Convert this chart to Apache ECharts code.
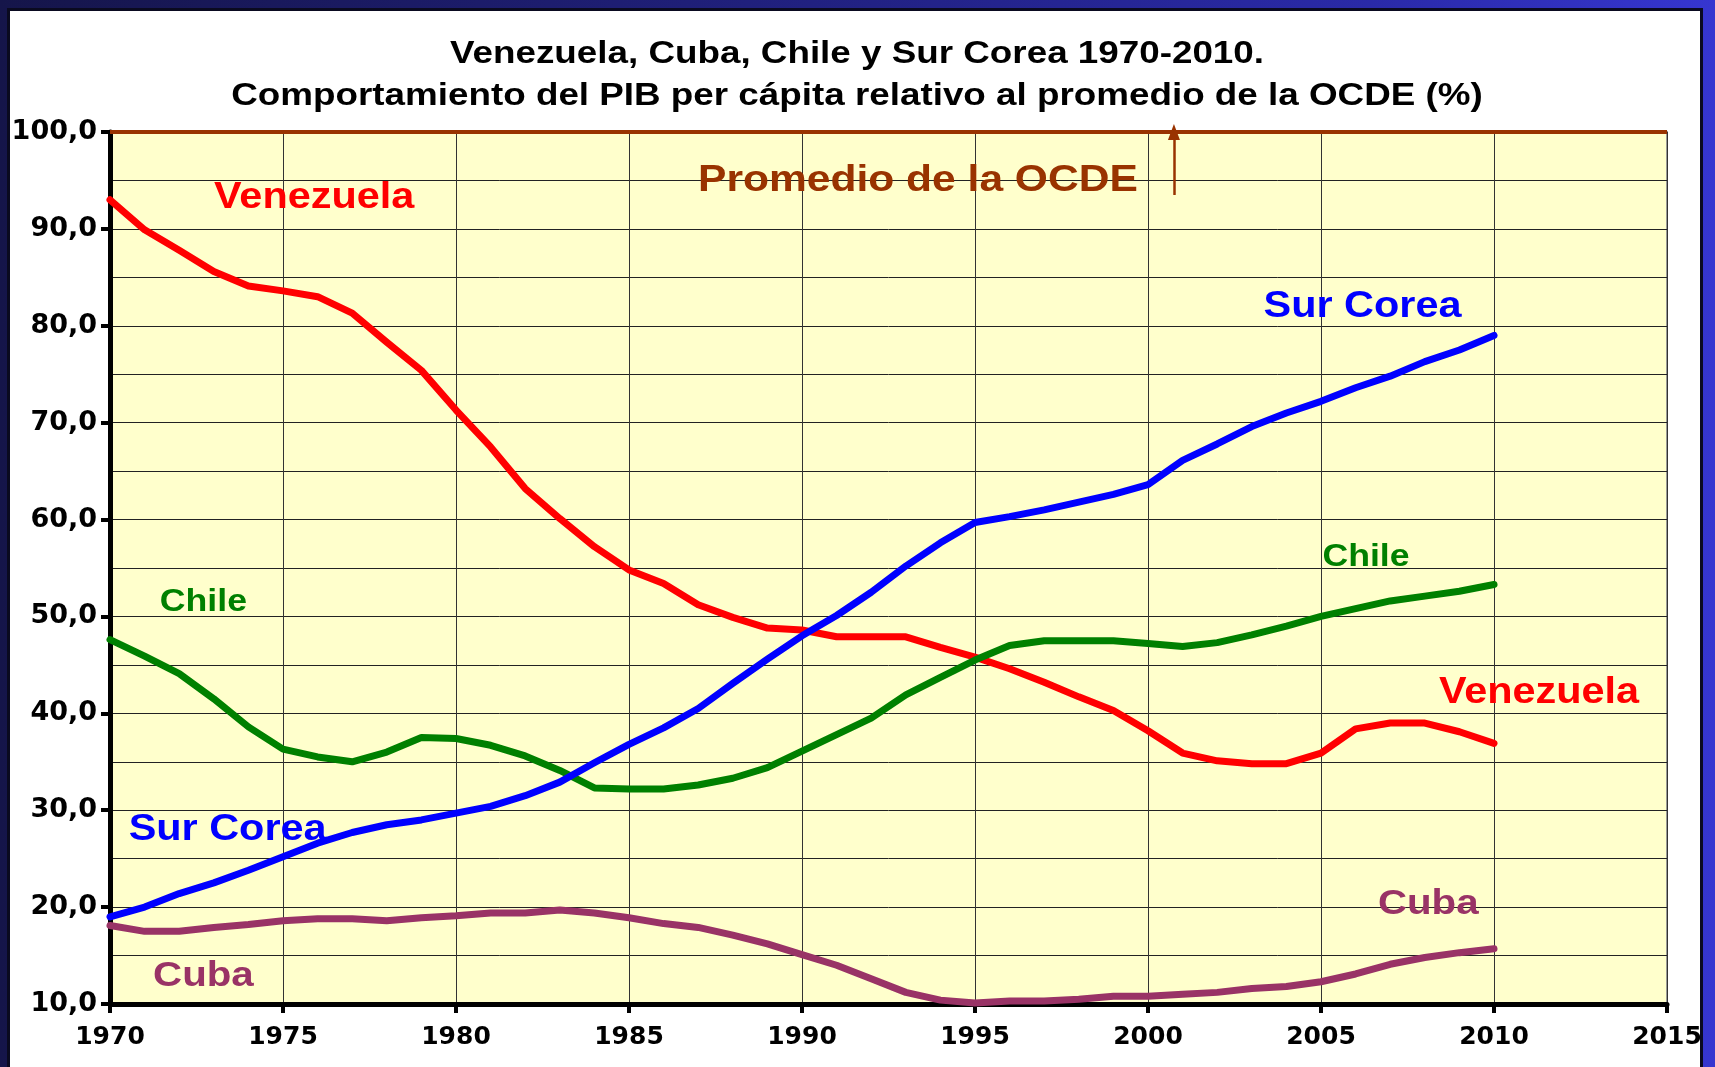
<!DOCTYPE html>
<html>
<head>
<meta charset="utf-8">
<script src="https://cdn.jsdelivr.net/npm/echarts@6/dist/echarts.min.js"></script>
<style>
  html, body { margin: 0; padding: 0; }
  body {
    width: 1715px; height: 1067px; overflow: hidden; position: relative;
    background: linear-gradient(90deg, #15154a 0%, #1f1f78 40%, #2a2aa8 80%, #3636d0 100%);
  }
  #panel {
    position: absolute; left: 7px; top: 8px; width: 1690px; height: 1070px;
    background: #fff; border: 3px solid #0a0a20;
  }
  #chart { position: absolute; left: 0; top: 0; width: 1715px; height: 1067px; }
</style>
</head>
<body>
<div id="panel"></div>
<div id="chart"></div>
<script>
const years = [1970, 1971, 1972, 1973, 1974, 1975, 1976, 1977, 1978, 1979,
  1980, 1981, 1982, 1983, 1984, 1985, 1986, 1987, 1988, 1989,
  1990, 1991, 1992, 1993, 1994, 1995, 1996, 1997, 1998, 1999,
  2000, 2001, 2002, 2003, 2004, 2005, 2006, 2007, 2008, 2009, 2010];

const venezuela = [93.0, 89.9, 87.8, 85.6, 84.1, 83.6, 83.0, 81.3, 78.3, 75.4,
  71.3, 67.5, 63.2, 60.1, 57.2, 54.8, 53.4, 51.2, 49.9, 48.8,
  48.6, 47.9, 47.9, 47.9, 46.8, 45.8, 44.6, 43.2, 41.7, 40.3,
  38.2, 35.9, 35.1, 34.8, 34.8, 35.9, 38.4, 39.0, 39.0, 38.1, 36.9];

const surCorea = [19.0, 20.0, 21.4, 22.5, 23.8, 25.2, 26.6, 27.7, 28.5, 29.0,
  29.7, 30.4, 31.5, 32.9, 34.9, 36.8, 38.5, 40.5, 43.1, 45.6,
  48.0, 50.1, 52.5, 55.2, 57.6, 59.7, 60.3, 61.0, 61.8, 62.6,
  63.6, 66.1, 67.8, 69.6, 71.0, 72.2, 73.6, 74.8, 76.3, 77.5, 79.0];

const chile = [47.6, 45.9, 44.1, 41.5, 38.6, 36.3, 35.5, 35.0, 36.0, 37.5,
  37.4, 36.7, 35.6, 34.1, 32.3, 32.2, 32.2, 32.6, 33.3, 34.4,
  36.1, 37.8, 39.5, 41.9, 43.7, 45.5, 47.0, 47.5, 47.5, 47.5,
  47.2, 46.9, 47.3, 48.1, 49.0, 50.0, 50.8, 51.6, 52.1, 52.6, 53.3];

const cuba = [18.1, 17.5, 17.5, 17.9, 18.2, 18.6, 18.8, 18.8, 18.6, 18.9,
  19.1, 19.4, 19.4, 19.7, 19.4, 18.9, 18.3, 17.9, 17.1, 16.2,
  15.1, 14.0, 12.6, 11.2, 10.4, 10.1, 10.3, 10.3, 10.5, 10.8,
  10.8, 11.0, 11.2, 11.6, 11.8, 12.3, 13.1, 14.1, 14.8, 15.3, 15.7];

const ocdeLevel = 100;
const ocdeArrow = [[2000.75, 93.5], [2000.75, 100]];

const titleLines = [
  'Venezuela, Cuba, Chile y Sur Corea 1970-2010.',
  'Comportamiento del PIB per cápita relativo al promedio de la OCDE (%)'
];

// in-chart labels: [text, year, value, color, size]
const notes = [
  ['Venezuela', 1975.9, 93.2, '#ff0000', 36],
  ['Promedio de la OCDE', 1993.35, 95.0, '#993300', 37],
  ['Sur Corea', 2006.2, 81.9, '#0000ff', 36],
  ['Chile', 2006.3, 56.1, '#008000', 31],
  ['Venezuela', 2011.3, 42.1, '#ff0000', 36],
  ['Cuba', 2008.1, 20.3, '#993366', 35],
  ['Chile', 1972.7, 51.4, '#008000', 31],
  ['Sur Corea', 1973.4, 28.0, '#0000ff', 36],
  ['Cuba', 1972.7, 12.9, '#993366', 35]
];

const pairs = vals => years.map((y, i) => [y, vals[i]]);

const chart = echarts.init(document.getElementById('chart'));
const axisFont = { fontFamily: 'DejaVu Sans', fontWeight: 'bold', color: '#000' };

const lineSeries = (name, vals, color) => ({
  name, type: 'line', data: pairs(vals), symbol: 'none', smooth: false,
  lineStyle: { color, width: 7, cap: 'round', join: 'round' },
  z: 3
});

chart.setOption({
  backgroundColor: 'transparent',
  animation: false,
  grid: {
    left: 110, right: 48, top: 132, bottom: 63,
    outerBoundsMode: 'none',
    show: true, backgroundColor: '#ffffcc', borderColor: '#999', borderWidth: 2
  },
  xAxis: {
    type: 'value', min: 1970, max: 2015, interval: 5,
    axisLine: { onZero: false, lineStyle: { color: '#000', width: 5 } },
    axisTick: { length: 9, lineStyle: { color: '#000', width: 4 } },
    axisLabel: Object.assign({ margin: 21, fontSize: 25, formatter: v => String(v) }, axisFont),
    splitLine: { show: true, lineStyle: { color: '#333', width: 1 } }
  },
  yAxis: {
    type: 'value', min: 10, max: 100, interval: 10,
    axisLine: { lineStyle: { color: '#000', width: 5 } },
    axisTick: { length: 9, lineStyle: { color: '#000', width: 4 } },
    axisLabel: Object.assign({ margin: 13, fontSize: 27, formatter: v => v.toFixed(1).replace('.', ',') }, axisFont),
    splitLine: { show: true, lineStyle: { color: '#222', width: 1 } },
    minorTick: { show: false, splitNumber: 2 },
    minorSplitLine: { show: true, lineStyle: { color: '#222', width: 1 } }
  },
  series: [
    Object.assign(lineSeries('Venezuela', venezuela, '#ff0000'), {
      markLine: {
        silent: true, animation: false, label: { show: false },
        data: [
          [{ coord: [1970, ocdeLevel], symbol: 'none' }, { coord: [2015, ocdeLevel], symbol: 'none' }],
          [{ coord: ocdeArrow[0], symbol: 'none', lineStyle: { width: 2.5 } },
           { coord: ocdeArrow[1], symbol: 'triangle', symbolSize: [12, 16], lineStyle: { width: 2.5 } }]
        ],
        lineStyle: { color: '#993300', width: 4, type: 'solid' }
      }
    }),
    lineSeries('Chile', chile, '#008000'),
    lineSeries('Sur Corea', surCorea, '#0000ff'),
    lineSeries('Cuba', cuba, '#993366')
  ]
});

const graphics = titleLines.map((t, i) => ({
  type: 'text', x: 857, y: i === 0 ? 54 : 96, scaleX: 1.15,
  style: { text: t, fill: '#000', font: 'bold 32px "Liberation Sans", Arial, sans-serif',
    textAlign: 'center', textVerticalAlign: 'middle' }
}));
notes.forEach(([text, x, y, color, size]) => {
  const p = chart.convertToPixel({ gridIndex: 0 }, [x, y]);
  graphics.push({
    type: 'text', x: p[0], y: p[1], scaleX: 1.15, z: 10,
    style: { text, fill: color, font: 'bold ' + size + 'px "Liberation Sans", Arial, sans-serif',
      textAlign: 'center', textVerticalAlign: 'middle' }
  });
});
chart.setOption({ graphic: graphics });
</script>
</body>
</html>
